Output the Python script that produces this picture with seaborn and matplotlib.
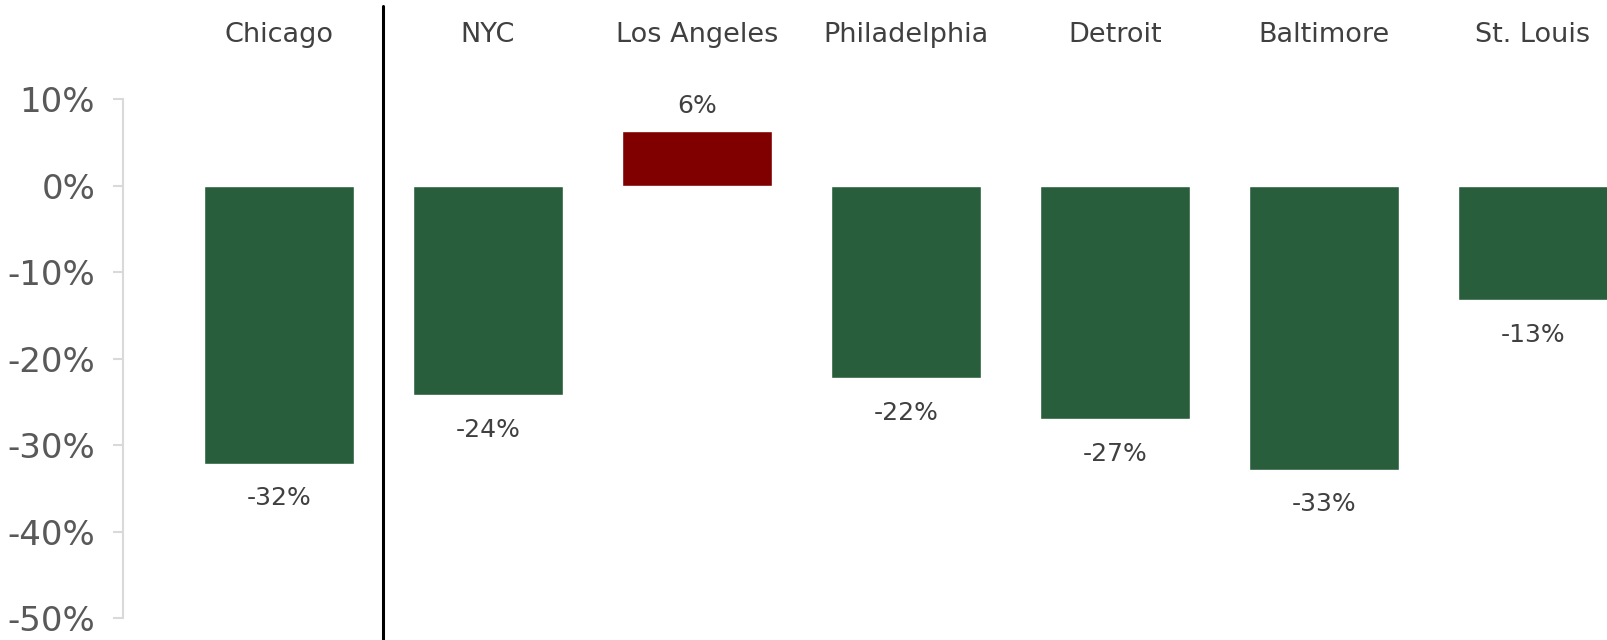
import matplotlib
matplotlib.use("Agg")

import pandas as pd
import matplotlib.pyplot as plt
import seaborn as sns

# Data

cities = ["Chicago", "NYC", "Los Angeles", "Philadelphia", "Detroit", "Baltimore", "St. Louis"]
change = [-32.1, -24.2, 6.4, -22.2, -27.0, -32.8, -13.2]
value_labels = ["-32%", "-24%", "6%", "-22%", "-27%", "-33%", "-13%"]
y_ticks = [10, 0, -10, -20, -30, -40, -50]

df = pd.DataFrame({"City": cities, "Change": change})

# Colours: red for growth, green for decline

green = "#285e3b"
red = "#800000"
palette = {c: (red if v > 0 else green) for c, v in zip(cities, change)}

# Style

sns.set_style("white")
plt.rcParams["font.family"] = ["DejaVu Sans"]

fig = plt.figure(figsize=(16.08, 6.4), dpi=100)
ax = fig.add_axes([0.0765, 0.0338, 0.9235, 0.8108])

# Bars

sns.barplot(
    data=df,
    x="City",
    y="Change",
    hue="City",
    palette=palette,
    order=cities,
    width=0.717,
    saturation=1,
    errorbar=None,
    legend=False,
    ax=ax
)

ax.set_ylim(-50, 10)
ax.set_xlim(-0.746, 6.36)

# Axes

for side in ["top", "right", "bottom"]:
    ax.spines[side].set_visible(False)
ax.spines["left"].set_color("#d9d9d9")
ax.spines["left"].set_linewidth(1.5)

ax.set_yticks(y_ticks)
ax.set_yticklabels([f"{t}%" for t in y_ticks])
ax.tick_params(
    axis="y",
    left=True,
    length=7,
    width=1.5,
    color="#d9d9d9",
    labelsize=24.5,
    labelcolor="#595959",
    pad=13
)
ax.set_xticks([])
ax.set_xlabel("")
ax.set_ylabel("")

# City names above the plot

for i, city in enumerate(cities):
    ax.text(
        i, 1.111, city,
        transform=ax.get_xaxis_transform(),
        ha="center", va="baseline",
        fontsize=19.5, color="#404040"
    )

# Value labels

for i, (v, lab) in enumerate(zip(change, value_labels)):
    offset = 12.5 if v > 0 else -30
    ax.annotate(
        lab,
        xy=(i, v),
        xytext=(0, offset),
        textcoords="offset points",
        ha="center", va="baseline",
        fontsize=18, color="#404040"
    )

# Divider between Chicago and the other cities

ax.axvline(0.5, ymin=-0.042, ymax=1.18, color="black", linewidth=2.2, clip_on=False)

fig.savefig("out.png", dpi=100)
